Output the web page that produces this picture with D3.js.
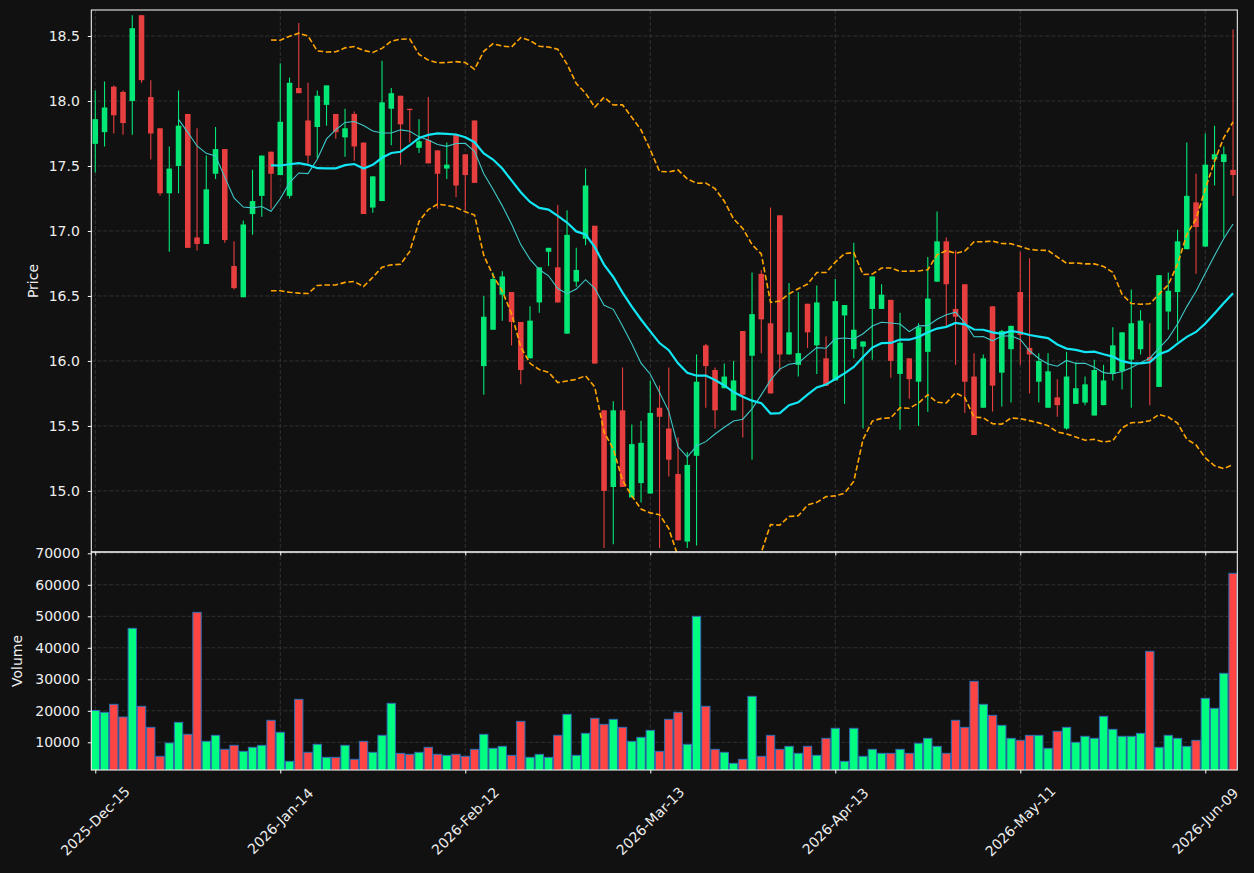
<!DOCTYPE html>
<html><head><meta charset="utf-8">
<script src="https://cdn.jsdelivr.net/npm/d3@7"></script>
<style>html,body{margin:0;padding:0;background:#111111;}svg{display:block;}</style>
</head><body>
<svg id="chart" width="1254" height="873"></svg>
<script>
const dates = [
"2025-12-15","2025-12-16","2025-12-17","2025-12-18","2025-12-19","2025-12-22","2025-12-23","2025-12-24","2025-12-26","2025-12-29",
"2025-12-30","2025-12-31","2026-01-02","2026-01-05","2026-01-06","2026-01-07","2026-01-08","2026-01-09","2026-01-12","2026-01-13",
"2026-01-14","2026-01-15","2026-01-16","2026-01-20","2026-01-21","2026-01-22","2026-01-23","2026-01-26","2026-01-27","2026-01-28",
"2026-01-29","2026-01-30","2026-02-02","2026-02-03","2026-02-04","2026-02-05","2026-02-06","2026-02-09","2026-02-10","2026-02-11",
"2026-02-12","2026-02-13","2026-02-17","2026-02-18","2026-02-19","2026-02-20","2026-02-23","2026-02-24","2026-02-25","2026-02-26",
"2026-02-27","2026-03-02","2026-03-03","2026-03-04","2026-03-05","2026-03-06","2026-03-09","2026-03-10","2026-03-11","2026-03-12",
"2026-03-13","2026-03-16","2026-03-17","2026-03-18","2026-03-19","2026-03-20","2026-03-23","2026-03-24","2026-03-25","2026-03-26",
"2026-03-27","2026-03-30","2026-03-31","2026-04-01","2026-04-02","2026-04-06","2026-04-07","2026-04-08","2026-04-09","2026-04-10",
"2026-04-13","2026-04-14","2026-04-15","2026-04-16","2026-04-17","2026-04-20","2026-04-21","2026-04-22","2026-04-23","2026-04-24",
"2026-04-27","2026-04-28","2026-04-29","2026-04-30","2026-05-01","2026-05-04","2026-05-05","2026-05-06","2026-05-07","2026-05-08",
"2026-05-11","2026-05-12","2026-05-13","2026-05-14","2026-05-15","2026-05-18","2026-05-19","2026-05-20","2026-05-21","2026-05-22",
"2026-05-26","2026-05-27","2026-05-28","2026-05-29","2026-06-01","2026-06-02","2026-06-03","2026-06-04","2026-06-05","2026-06-08",
"2026-06-09","2026-06-10","2026-06-11","2026-06-12"];

const open = [
17.67,17.76,18.11,18.07,18.00,18.66,18.03,17.79,17.29,17.50,
17.90,16.95,16.90,17.44,17.63,16.73,16.49,17.13,17.27,17.61,
17.43,17.27,18.10,17.85,17.80,17.97,17.90,17.72,17.90,17.68,
17.18,17.23,17.94,18.04,17.94,17.64,17.70,17.62,17.48,17.74,
17.59,17.85,15.96,16.24,16.51,16.53,16.30,16.02,16.45,16.84,
16.72,16.21,16.61,16.94,17.04,15.62,15.03,15.62,14.95,15.06,
14.98,15.64,15.48,15.13,14.61,15.27,16.12,15.93,15.79,15.62,
16.23,16.04,16.67,16.29,17.12,16.05,15.97,16.44,16.12,16.02,
15.85,16.35,16.09,16.11,16.40,16.40,16.47,15.90,16.02,15.84,
16.07,16.61,16.92,16.40,16.59,15.88,15.64,16.42,15.91,16.09,
16.53,16.10,15.84,15.64,15.72,15.48,15.67,15.68,15.58,15.66,
15.90,15.92,16.01,16.09,16.03,15.80,16.38,16.53,16.86,17.22,
16.88,17.55,17.53,17.47];

const high = [
18.08,18.15,18.12,18.08,18.66,18.66,18.16,17.79,17.65,18.08,
17.90,17.79,17.58,17.80,17.63,16.92,17.08,17.47,17.58,17.61,
18.29,18.18,18.60,18.14,18.08,18.12,17.90,17.94,17.92,17.68,
17.42,18.31,18.10,18.04,17.94,17.86,18.03,17.62,17.68,17.74,
17.59,17.85,16.50,16.68,16.69,16.53,16.30,16.42,16.72,16.87,
17.20,17.16,16.87,17.48,17.04,15.62,15.69,15.95,15.51,15.54,
15.85,15.81,15.95,15.41,15.30,16.05,16.13,15.95,15.98,16.00,
16.23,16.68,16.70,17.18,17.12,16.60,16.53,16.44,16.58,16.19,
16.63,16.43,16.91,16.15,16.65,16.59,16.47,16.37,16.02,16.29,
16.80,17.15,16.95,16.85,16.59,16.06,16.05,16.42,16.24,16.27,
16.84,16.79,16.06,16.06,15.86,16.07,15.99,15.88,16.01,15.97,
16.26,16.22,16.55,16.39,16.29,16.66,16.68,17.01,17.68,17.44,
17.75,17.81,17.65,18.55];

const low = [
17.45,17.65,17.75,17.74,17.74,18.14,17.55,17.27,16.84,17.29,
16.87,16.85,16.90,17.40,16.91,16.55,16.49,16.97,17.11,17.17,
17.43,17.25,18.06,17.52,17.56,17.81,17.71,17.57,17.54,17.13,
17.14,17.23,17.66,17.51,17.68,17.60,17.52,17.17,17.40,17.26,
17.16,17.37,15.74,16.24,16.31,16.12,15.82,16.02,16.37,16.73,
16.45,16.21,16.57,16.89,15.98,14.56,14.59,15.03,14.95,14.91,
14.98,14.56,15.11,14.62,14.56,14.58,15.64,15.48,15.79,15.62,
15.41,15.24,16.06,15.75,15.92,16.05,15.88,16.10,15.90,15.81,
15.85,15.67,16.02,15.48,16.01,16.40,15.87,15.47,15.71,15.50,
15.61,16.61,16.27,15.97,15.60,15.43,15.64,15.61,15.65,15.68,
15.97,15.75,15.68,15.64,15.57,15.47,15.67,15.66,15.58,15.66,
15.85,15.78,15.64,16.05,15.66,15.80,16.24,16.15,16.86,16.67,
16.88,17.35,16.95,17.27];

const close = [
17.86,17.95,17.89,17.83,18.56,18.16,17.75,17.29,17.48,17.81,
16.87,16.90,17.32,17.63,16.93,16.56,17.05,17.23,17.58,17.44,
17.84,18.14,18.06,17.58,18.04,18.12,17.76,17.79,17.65,17.13,
17.42,17.99,18.06,17.82,17.93,17.69,17.52,17.44,17.51,17.35,
17.43,17.37,16.34,16.63,16.65,16.30,15.93,16.31,16.72,16.87,
16.45,16.97,16.70,17.35,15.98,15.00,15.62,15.03,15.36,15.37,
15.60,15.57,15.24,14.62,15.20,15.84,15.96,15.62,15.88,15.85,
15.74,16.36,16.32,15.75,16.05,16.22,16.06,16.22,16.45,15.81,
16.46,16.43,16.24,16.15,16.65,16.51,16.00,16.14,15.86,16.26,
16.48,16.92,16.59,16.34,15.84,15.43,16.02,15.81,16.23,16.27,
16.20,16.05,16.00,15.92,15.66,15.88,15.79,15.82,15.93,15.85,
16.12,16.22,16.29,16.31,16.00,16.66,16.54,16.92,17.27,17.03,
17.51,17.59,17.59,17.43];

const volume = [
20100,19500,22050,18030,46180,21420,14750,5550,9780,16340,
12530,51260,10310,12210,7770,9040,7130,8400,9040,16980,
13170,3960,23640,6820,9360,5230,5230,9040,4590,10310,
6820,12210,22370,6500,6180,6820,8400,6180,5860,6180,
5550,7770,12530,8090,8720,5860,16660,5230,6180,5230,
12210,18880,5860,12850,17610,15700,17290,14750,10310,11580,
13800,7130,17290,19510,9360,49990,21420,7770,6820,3320,
4590,24590,5550,12210,7770,8720,6500,8720,5860,11260,
14440,3960,14440,5550,7770,6500,6500,7770,6500,9670,
11260,8720,6500,16980,14750,29360,22050,18560,15390,11260,
10630,12210,12210,8090,13480,14750,9990,11900,11260,18240,
14120,11900,11900,12850,38880,8400,12210,11260,8720,10630,
23960,20780,31900,63640];

const priceTicks = [15.0,15.5,16.0,16.5,17.0,17.5,18.0,18.5];
const volumeTicks = [10000,20000,30000,40000,50000,60000,70000];
const xTickIndex = [0,20,40,60,80,100,120];
const maShortLen = 10, maLongLen = 20, bbStd = 2;

// ---------- layout ----------
const L = 91.3, R = 1237.3, pTop = 10, pBot = 552, vTop = 552, vBot = 770;
const BG = "#111111", TXT = "#eeeeee", GRID = "#3a3a3a";
const UP = "#02e775", DOWN = "#e73f3f", VUP = "#00ff80", VDOWN = "#ff4444", VEDGE = "#2f6fb4";
const FONT = "DejaVu Sans, sans-serif";

const n = close.length;
const idx = d3.range(n);
const svg = d3.select("#chart");
svg.append("rect").attr("width",1254).attr("height",873).attr("fill",BG);

const x = d3.scaleLinear().domain([-0.43, 123.46]).range([L, R]);
const y = d3.scaleLinear().domain([14.53, 18.70]).range([pBot, pTop]);
const yv = d3.scaleLinear().domain([1206, 70413]).range([vBot, vTop]);
const step = x(1) - x(0);
const parse = d3.timeParse("%Y-%m-%d"), fmt = d3.timeFormat("%Y-%b-%d");

const defs = svg.append("defs");
defs.append("clipPath").attr("id","cp").append("rect").attr("x",L).attr("y",pTop).attr("width",R-L).attr("height",pBot-pTop);
defs.append("clipPath").attr("id","cv").append("rect").attr("x",L).attr("y",vTop).attr("width",R-L).attr("height",vBot-vTop);

// grid
const grid = svg.append("g").attr("stroke",GRID).attr("stroke-width",0.8).attr("stroke-dasharray","4,2");
priceTicks.forEach(t=>grid.append("line").attr("x1",L).attr("x2",R).attr("y1",y(t)).attr("y2",y(t)));
volumeTicks.forEach(t=>grid.append("line").attr("x1",L).attr("x2",R).attr("y1",yv(t)).attr("y2",yv(t)));
xTickIndex.forEach(i=>grid.append("line").attr("x1",x(i)).attr("x2",x(i)).attr("y1",pTop).attr("y2",vBot));

// indicators
function sma(arr, len){ return arr.map((v,i)=> i<len-1 ? null : d3.mean(arr.slice(i-len+1,i+1))); }
function sd(arr, len){ return arr.map((v,i)=> { if(i<len-1) return null; const s=arr.slice(i-len+1,i+1); const m=d3.mean(s); return Math.sqrt(d3.mean(s.map(q=>(q-m)*(q-m)))); }); }
const maS = sma(close, maShortLen), maL = sma(close, maLongLen), sdL = sd(close, maLongLen);
const bbU = maL.map((m,i)=> m===null?null:m+bbStd*sdL[i]);
const bbD = maL.map((m,i)=> m===null?null:m-bbStd*sdL[i]);

const pg = svg.append("g").attr("clip-path","url(#cp)");
// candles
const wickW = 1.1, bodyW = step*0.6;
pg.selectAll("line.w").data(idx).join("line")
  .attr("x1",i=>x(i)).attr("x2",i=>x(i)).attr("y1",i=>y(high[i])).attr("y2",i=>y(low[i]))
  .attr("stroke",i=>close[i]>=open[i]?UP:DOWN).attr("stroke-width",wickW);
pg.selectAll("rect.b").data(idx).join("rect")
  .attr("x",i=>x(i)-bodyW/2).attr("width",bodyW)
  .attr("y",i=>y(Math.max(open[i],close[i])))
  .attr("height",i=>Math.max(1, y(Math.min(open[i],close[i]))-y(Math.max(open[i],close[i]))))
  .attr("fill",i=>close[i]>=open[i]?UP:DOWN);

const line = d3.line().defined(d=>d[1]!==null).x(d=>x(d[0])).y(d=>y(d[1]));
pg.append("path").attr("d",line(maS.map((v,i)=>[i,v]))).attr("fill","none").attr("stroke","#3fc9c9").attr("stroke-width",1.1);
pg.append("path").attr("d",line(maL.map((v,i)=>[i,v]))).attr("fill","none").attr("stroke","#12e6f4").attr("stroke-width",2.2);
[bbU,bbD].forEach(b=>pg.append("path").attr("d",line(b.map((v,i)=>[i,v]))).attr("fill","none")
  .attr("stroke","#ffa500").attr("stroke-width",1.6).attr("stroke-dasharray","5.5,2.6"));

// volume
const vg = svg.append("g").attr("clip-path","url(#cv)");
const vW = step*0.9;
vg.selectAll("rect").data(idx).join("rect")
  .attr("x",i=>x(i)-vW/2).attr("width",vW)
  .attr("y",i=>yv(volume[i])).attr("height",i=>yv(0)-yv(volume[i]))
  .attr("fill",i=>close[i]>=open[i]?VUP:VDOWN).attr("stroke",VEDGE).attr("stroke-width",1);

// frames
svg.append("rect").attr("x",L).attr("y",pTop).attr("width",R-L).attr("height",pBot-pTop).attr("fill","none").attr("stroke","#ffffff").attr("stroke-width",1);
svg.append("rect").attr("x",L).attr("y",vTop).attr("width",R-L).attr("height",vBot-vTop).attr("fill","none").attr("stroke","#ffffff").attr("stroke-width",1);

// axes
function styleAxis(g){
  g.select(".domain").remove();
  g.selectAll(".tick line").attr("stroke","#ffffff");
  g.selectAll(".tick text").attr("fill",TXT).style("font-family",FONT).style("font-size","14px");
}
svg.append("g").attr("transform",`translate(${L},0)`)
  .call(d3.axisLeft(y).tickValues(priceTicks).tickFormat(d3.format(".1f")).tickSize(3.5).tickPadding(8)).call(styleAxis);
svg.append("g").attr("transform",`translate(${L},0)`)
  .call(d3.axisLeft(yv).tickValues(volumeTicks).tickFormat(d3.format("d")).tickSize(3.5).tickPadding(8)).call(styleAxis);
const xa = svg.append("g").attr("transform",`translate(0,${vBot})`)
  .call(d3.axisBottom(x).tickValues(xTickIndex).tickFormat("").tickSize(3.5));
xa.select(".domain").remove(); xa.selectAll(".tick line").attr("stroke","#ffffff");
svg.append("g").attr("transform",`translate(0,${pBot})`)
  .call(d3.axisBottom(x).tickValues(xTickIndex).tickFormat("").tickSize(3.5))
  .call(g=>{g.select(".domain").remove(); g.selectAll(".tick line").attr("stroke","#ffffff");});

svg.append("g").selectAll("text").data(xTickIndex).join("text")
  .attr("transform",i=>`translate(${x(i)},821) rotate(-45)`)
  .attr("text-anchor","middle").attr("dominant-baseline","central")
  .attr("fill",TXT).style("font-family",FONT).style("font-size","14px")
  .text(i=>fmt(parse(dates[i])));

svg.append("text").attr("transform",`translate(33,${(pTop+pBot)/2}) rotate(-90)`)
  .attr("text-anchor","middle").attr("dominant-baseline","central")
  .attr("fill",TXT).style("font-family",FONT).style("font-size","14px").text("Price");
svg.append("text").attr("transform",`translate(17,${(vTop+vBot)/2}) rotate(-90)`)
  .attr("text-anchor","middle").attr("dominant-baseline","central")
  .attr("fill",TXT).style("font-family",FONT).style("font-size","14px").text("Volume");
</script>
</body></html>
